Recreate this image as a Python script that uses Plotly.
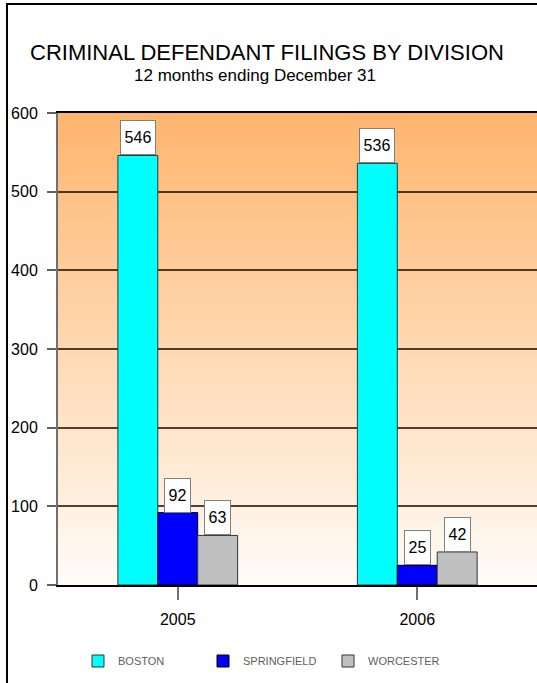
import plotly.graph_objects as go

years = ["2005", "2006"]
divisions = ["BOSTON", "SPRINGFIELD", "WORCESTER"]
boston = [546, 536]
springfield = [92, 25]
worcester = [63, 42]
series = [boston, springfield, worcester]
colors = ["#00FFFF", "#0000FF", "#C0C0C0"]
outlines = ["#333333", "#000000", "#333333"]
y_ticks = [0, 100, 200, 300, 400, 500, 600]

FONT = "Liberation Sans, Arial, sans-serif"

W, H = 537, 683
ML, MR, MT, MB = 58, 0, 113, 98
PW, PH = W - ML - MR, H - MT - MB

def px_x(p):
    return (p - ML) / PW

def px_y(p):
    return (H - MB - p) / PH

fig = go.Figure()
for name, vals, c, oc in zip(divisions, series, colors, outlines):
    fig.add_trace(go.Bar(
        x=years, y=vals, name=name,
        marker=dict(color=c, line=dict(color=oc, width=1)),
    ))

# gradient background via stripes
shapes = []
N = 160
top = (255, 181, 110)
bot = (255, 252, 248)
for k in range(N):
    t = k / (N - 1)
    col = tuple(round(bot[i] + (top[i] - bot[i]) * t) for i in range(3))
    shapes.append(dict(type="rect", xref="paper", yref="paper",
                       x0=0, x1=1, y0=k / N, y1=(k + 1) / N + 0.002,
                       fillcolor="rgb(%d,%d,%d)" % col, line=dict(width=0),
                       layer="below"))
# outer frame
shapes.append(dict(type="rect", xref="paper", yref="paper",
                   x0=px_x(7), x1=px_x(545), y0=px_y(695), y1=px_y(4),
                   line=dict(color="black", width=2), fillcolor="rgba(0,0,0,0)"))

annotations = []
group_w = 0.5
bw = group_w / len(series)
for j, vals in enumerate(series):
    for i, v in enumerate(vals):
        txt = str(v)
        annotations.append(dict(
            x=i + (j - 1) * bw, y=v, xref="x", yref="y",
            text=txt, showarrow=False, yanchor="bottom",
            font=dict(family=FONT, size=16, color="black"),
            width=30 if len(txt) > 2 else 21, height=29,
            bgcolor="white", bordercolor="#7f7f7f", borderwidth=1, borderpad=2,
        ))

annotations.append(dict(
    x=px_x(267), y=px_y(52), xref="paper", yref="paper",
    text="CRIMINAL DEFENDANT FILINGS BY DIVISION", showarrow=False,
    font=dict(family=FONT, size=22, color="black"),
    xanchor="center", yanchor="middle"))
annotations.append(dict(
    x=px_x(255), y=px_y(75), xref="paper", yref="paper",
    text="12 months ending December 31", showarrow=False,
    font=dict(family=FONT, size=17, color="black"),
    xanchor="center", yanchor="middle"))

fig.update_layout(
    width=W, height=H,
    margin=dict(l=ML, r=MR, t=MT, b=MB, pad=0),
    paper_bgcolor="white", plot_bgcolor="white",
    barmode="group", bargap=0.5, bargroupgap=0,
    shapes=shapes, annotations=annotations,
    showlegend=True,
    legend=dict(orientation="h", x=px_x(78), y=px_y(661), yanchor="middle",
                xanchor="left", font=dict(family=FONT, size=11, color="#606060"),
                entrywidth=80, entrywidthmode="pixels", bgcolor="rgba(0,0,0,0)"),
    xaxis=dict(showline=True, linecolor="black", linewidth=1.5, mirror=True,
               ticks="outside", ticklen=13, tickcolor="#707070", tickwidth=2,
               tickfont=dict(family=FONT, size=16, color="black"),
               showgrid=False, range=[-0.5, 1.5], ticklabelstandoff=6),
    yaxis=dict(range=[0, 600], tickvals=y_ticks, showline=True, linecolor="#707070",
               linewidth=2, ticks="outside", ticklen=9, tickcolor="#606060", tickwidth=2,
               gridcolor="rgba(35,20,5,0.8)", gridwidth=1.6,
               tickfont=dict(family=FONT, size=16, color="black"),
               zeroline=False, ticklabelstandoff=6),
)

fig.write_html("out.html")
